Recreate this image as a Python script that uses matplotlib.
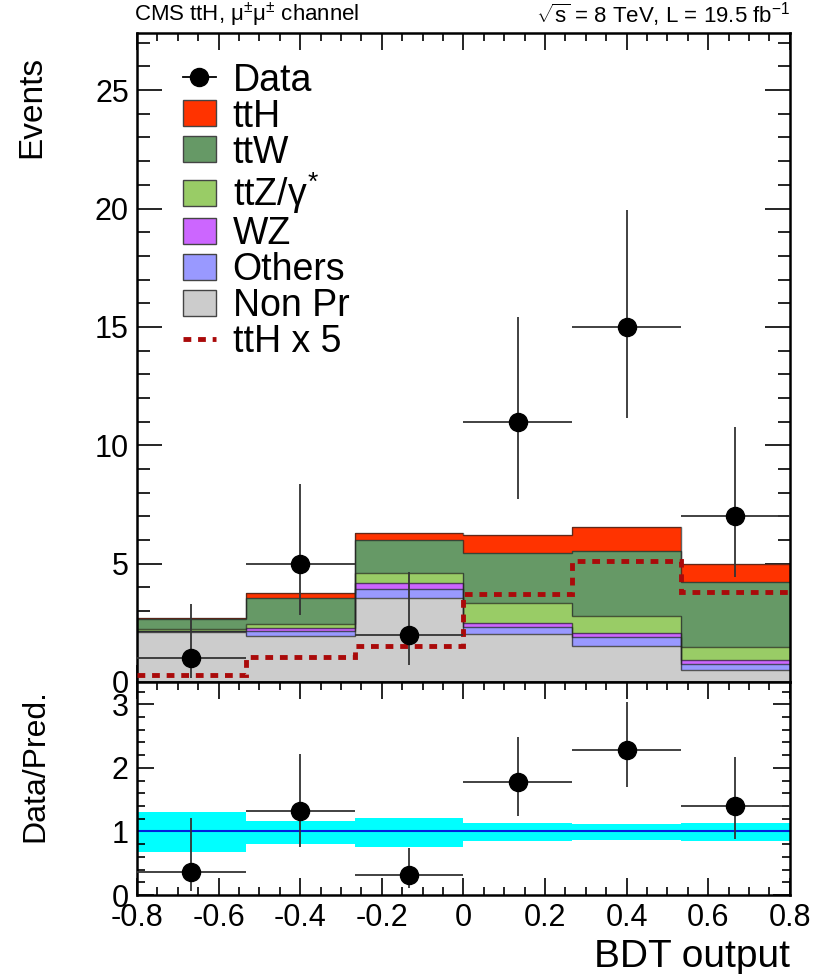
import numpy as np
import matplotlib
matplotlib.use("Agg")
import matplotlib.pyplot as plt
from matplotlib.patches import Patch
from matplotlib.lines import Line2D
from matplotlib.ticker import MultipleLocator

plt.rcParams['font.family'] = ['Liberation Sans', 'DejaVu Sans']
plt.rcParams['mathtext.fontset'] = 'custom'
plt.rcParams['mathtext.rm'] = 'Liberation Sans'
plt.rcParams['mathtext.it'] = 'Liberation Sans'
plt.rcParams['mathtext.sf'] = 'Liberation Sans'

# ---- histogram contents (6 bins of BDT output) ----
bin_edges = np.linspace(-0.8, 0.8, 7)
data = np.array([1, 5, 2, 11, 15, 7])
data_lo = np.array([0.17, 2.84, 0.71, 7.74, 11.17, 4.42])   # Poisson 68% interval
data_hi = np.array([3.30, 8.38, 4.64, 15.41, 19.95, 10.77])

nonpr  = np.array([2.10, 1.96, 3.56, 2.03, 1.54, 0.52])
others = np.array([0.04, 0.20, 0.35, 0.30, 0.35, 0.25])
wz     = np.array([0.03, 0.14, 0.28, 0.18, 0.20, 0.17])
ttz    = np.array([0.05, 0.14, 0.42, 0.84, 0.70, 0.53])
ttw    = np.array([0.43, 1.12, 1.40, 2.10, 2.75, 2.75])
tth    = np.array([0.06, 0.21, 0.30, 0.74, 1.02, 0.76])
tth_scale = 5

# relative uncertainty band on the prediction
band_lo = np.array([0.68, 0.80, 0.75, 0.85, 0.87, 0.85])
band_hi = np.array([1.31, 1.17, 1.21, 1.13, 1.11, 1.13])

components = [
    ("Non Pr", nonpr, "#cccccc"),
    ("Others", others, "#9999ff"),
    ("WZ", wz, "#cc66ff"),
    (r"ttZ/$\gamma^{*}$", ttz, "#99cc66"),
    ("ttW", ttw, "#669966"),
    ("ttH", tth, "#ff3300"),
]

centers = 0.5 * (bin_edges[:-1] + bin_edges[1:])
half_w = 0.5 * np.diff(bin_edges)

fig = plt.figure(figsize=(8.16, 9.74), dpi=100)
ax1 = fig.add_axes([0.168, 0.2998, 0.800, 0.666])
ax2 = fig.add_axes([0.168, 0.0811, 0.800, 0.2187])

# ---- stacked prediction ----
bottom = np.zeros(len(data))
for name, vals, col in components:
    top = bottom + vals
    ax1.stairs(top, bin_edges, baseline=bottom, fill=True, color=col,
               edgecolor="none", zorder=2)
    ax1.stairs(top, bin_edges, baseline=None, color="#222222", lw=1.0,
               alpha=0.7, zorder=2.5)
    bottom = top
total = bottom

# signal scaled
ax1.stairs(tth * tth_scale, bin_edges, baseline=None, color="#aa0a0a",
           lw=3.5, linestyle=(0, (1.6, 1.4)), zorder=3)

# data
ax1.errorbar(centers, data, xerr=half_w, yerr=[data - data_lo, data_hi - data],
             fmt="o", color="black", ecolor="#333333", elinewidth=1.3,
             markersize=13, capsize=0, zorder=4)

ax1.set_xlim(-0.8, 0.8)
ax1.set_ylim(0, 27.4)
ax1.set_ylabel("Events", fontsize=24, loc="top")
ax1.yaxis.set_label_coords(-0.138, 0.965)
ax1.yaxis.set_major_locator(MultipleLocator(5))
ax1.yaxis.set_minor_locator(MultipleLocator(1))
ax1.xaxis.set_major_locator(MultipleLocator(0.2))
ax1.xaxis.set_minor_locator(MultipleLocator(0.05))
ax1.tick_params(labelbottom=False)

ax1.text(-0.005, 1.006, r"CMS ttH, μ$^{\pm}$μ$^{\pm}$ channel", transform=ax1.transAxes,
         fontsize=16, ha="left", va="bottom")
ax1.text(1.0, 1.006, r"$\sqrt{s}$ = 8 TeV, L = 19.5 fb$^{-1}$", transform=ax1.transAxes,
         fontsize=16, ha="right", va="bottom")

# legend
handles = [Line2D([], [], color="black", marker="o", markersize=13, lw=1.3)]
labels = ["Data"]
for name, vals, col in reversed(components):
    handles.append(Patch(facecolor=col, edgecolor="#444444", lw=1.0))
    labels.append(name)
handles.append(Line2D([], [], color="#aa0a0a", lw=3.5, linestyle=(0, (1.6, 1.4))))
labels.append("ttH x %d" % tth_scale)
ax1.legend(handles, labels, loc="upper left", bbox_to_anchor=(0.07, 0.955),
           frameon=False, fontsize=27, handlelength=0.88, handleheight=0.68,
           handletextpad=0.45, labelspacing=0.0, borderpad=0, borderaxespad=0)

# ---- ratio panel ----
ax2.stairs(band_hi, bin_edges, baseline=band_lo, fill=True, color="#00ffff",
           edgecolor="none", zorder=1)
ax2.axhline(1.0, color="#0022dd", lw=1.5, zorder=2)
ratio = data / total
ax2.errorbar(centers, ratio, xerr=half_w,
             yerr=[(data - data_lo) / total, (data_hi - data) / total],
             fmt="o", color="black", ecolor="#333333", elinewidth=1.3,
             markersize=13, capsize=0, zorder=4)
ax2.set_xlim(-0.8, 0.8)
ax2.set_ylim(0, 3.35)
ax2.set_ylabel("Data/Pred.", fontsize=23, loc="top")
ax2.yaxis.set_label_coords(-0.133, 0.965)
ax2.set_xlabel("BDT output", fontsize=28, loc="right", labelpad=4)
ax2.yaxis.set_major_locator(MultipleLocator(1))
ax2.yaxis.set_minor_locator(MultipleLocator(0.2))
ax2.xaxis.set_minor_locator(MultipleLocator(0.05))
ax2.set_xticks(np.round(np.arange(-0.8, 0.81, 0.2), 1))
ax2.set_xticklabels(["-0.8", "-0.6", "-0.4", "-0.2", "0", "0.2", "0.4", "0.6", "0.8"])

for ax in (ax1, ax2):
    for sp in ax.spines.values():
        sp.set_linewidth(1.8)
    ax.tick_params(which="both", direction="in", top=True, right=True,
                   labelsize=22, width=1.2, pad=6)
    ax.tick_params(which="major", length=12)
    ax.tick_params(which="minor", length=6)
ax1.tick_params(axis="y", which="major", length=18)
ax1.tick_params(axis="y", which="minor", length=9)

fig.savefig("out.png", dpi=100)
